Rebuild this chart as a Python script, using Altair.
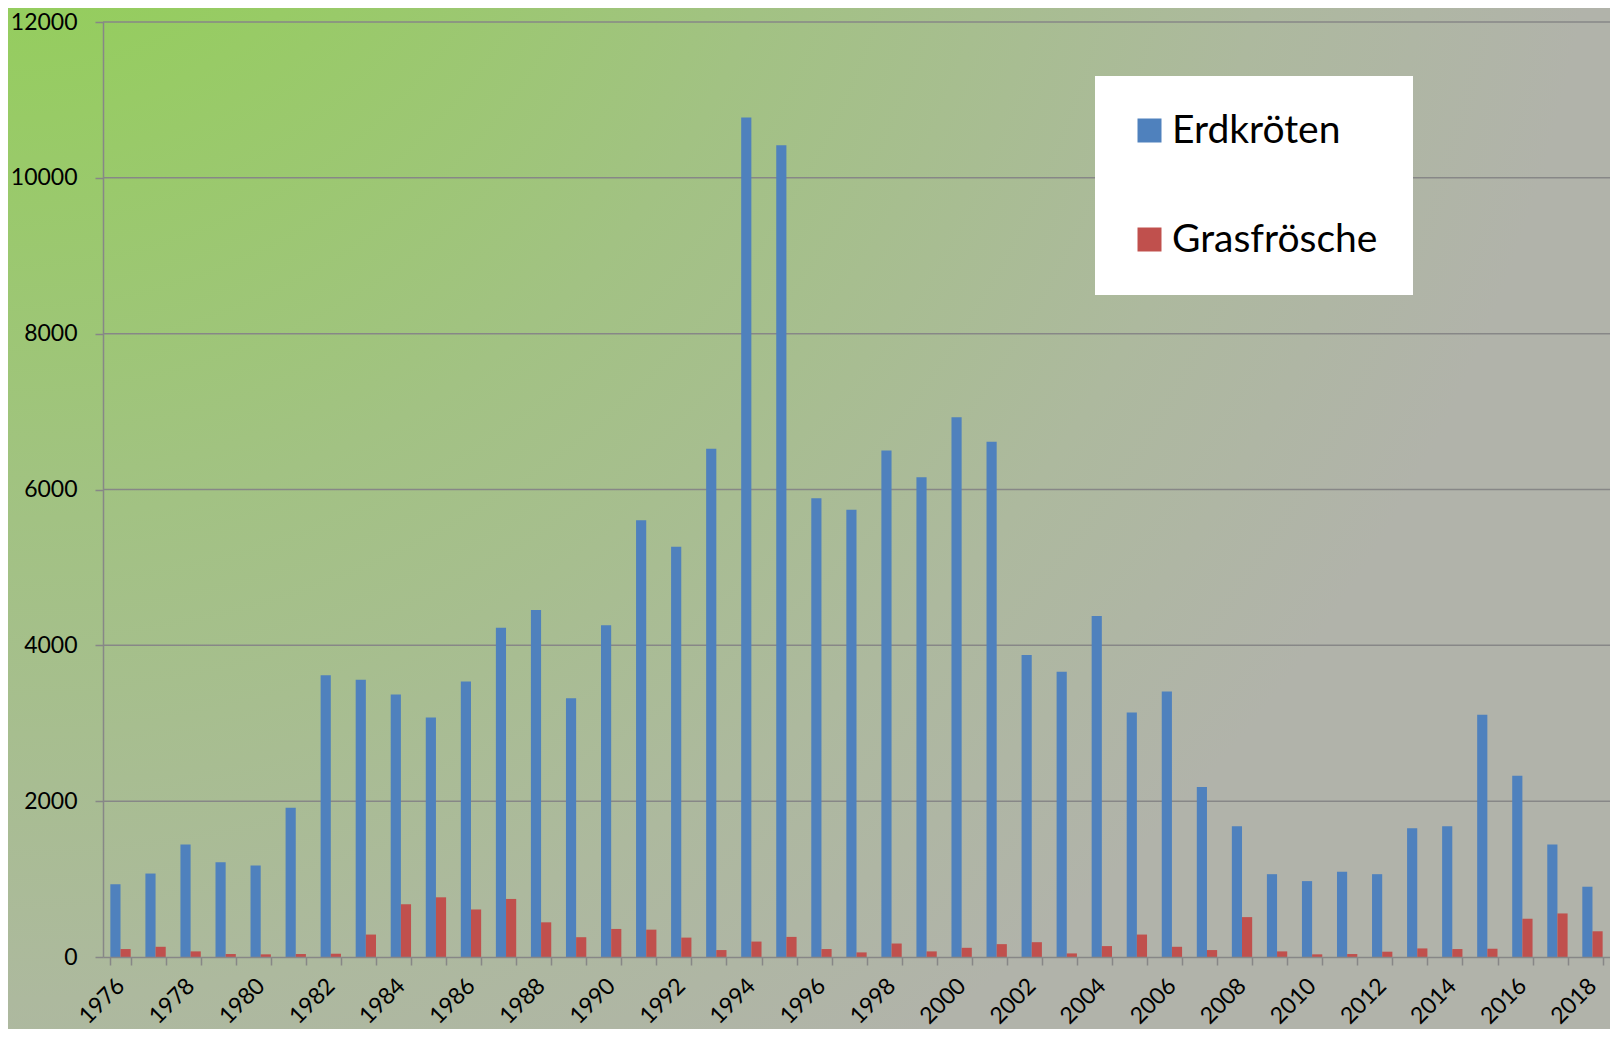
import altair as alt
import pandas as pd

years = list(range(1976, 2019))
series = ["Erdkröten", "Grasfrösche"]
erdkroeten = [935, 1071, 1444, 1215, 1173, 1914, 3617, 3558, 3368, 3075,
              3537, 4227, 4452, 3321, 4258, 5605, 5266, 6524, 10773, 10417,
              5889, 5740, 6499, 6156, 6927, 6613, 3877, 3660, 4376, 3139,
              3406, 2181, 1678, 1063, 974, 1093, 1063, 1652, 1678, 3109,
              2326, 1444, 902]
grasfroesche = [102, 131, 72, 38, 34, 38, 42, 288, 677, 766,
                610, 745, 445, 254, 360, 351, 249, 89, 198, 258,
                102, 59, 173, 72, 118, 165, 190, 46, 140, 288,
                131, 89, 512, 72, 34, 38, 68, 110, 102, 106,
                491, 559, 330]
y_ticks = [0, 2000, 4000, 6000, 8000, 10000, 12000]
colors = ["#4F81BD", "#C0504D"]

df = pd.DataFrame({
    "Jahr": years * 2,
    "Art": [series[0]] * len(years) + [series[1]] * len(years),
    "Anzahl": erdkroeten + grasfroesche,
})

W, H = 1507, 935
PAD = {"left": 95, "top": 14, "right": 0, "bottom": 72}
GRAY = "#878787"
FONT = "Lato"

gradient = alt.RadialGradient(
    gradient="radial", x1=0, y1=0, r1=0, x2=0, y2=0, r2=1,
    stops=[
        alt.GradientStop(offset=0.0, color="#8CD24A"),
        alt.GradientStop(offset=0.25, color="#98CB66"),
        alt.GradientStop(offset=0.5, color="#A2C283"),
        alt.GradientStop(offset=0.8, color="#ADB99E"),
        alt.GradientStop(offset=1.0, color="#B1B3AA"),
    ],
)

bg = alt.Chart(pd.DataFrame({"k": [0]})).mark_rect(color=gradient).encode(
    x=alt.value(-PAD["left"]), x2=alt.value(W + PAD["right"]),
    y=alt.value(-PAD["top"]), y2=alt.value(H + PAD["bottom"]),
)

yscale = alt.Scale(domain=[0, 12000], nice=False)

grid = alt.Chart(pd.DataFrame({"Anzahl": y_ticks[1:]})).mark_rule(
    color=GRAY, strokeWidth=1.5
).encode(y=alt.Y("Anzahl:Q", scale=yscale, title=None))

bars = alt.Chart(df).mark_bar().encode(
    x=alt.X(
        "Jahr:O",
        scale=alt.Scale(paddingInner=0.42, paddingOuter=0.21),
        axis=alt.Axis(
            title=None, labelAngle=-45, labelAlign="right", labelBaseline="middle",
            labelFont=FONT, labelFontSize=23, labelColor="black",
            labelExpr="datum.value % 2 == 0 ? datum.label : ''",
            labelOverlap=False, labelPadding=17, labelBound=False,
            tickBand="extent", tickColor=GRAY, tickSize=8, tickWidth=1.5,
            domainColor=GRAY, domainWidth=1.5, grid=False, zindex=2,
        ),
    ),
    xOffset=alt.XOffset("Art:N", sort=series,
                        scale=alt.Scale(paddingInner=0, paddingOuter=0)),
    y=alt.Y(
        "Anzahl:Q", scale=yscale, title=None,
        axis=alt.Axis(
            values=y_ticks, format="d", grid=False, labelFont=FONT,
            labelFontSize=23, labelColor="black", labelPadding=18,
            tickColor=GRAY, tickSize=8, tickWidth=1.5, domainColor=GRAY,
            domainWidth=1.5, zindex=2,
        ),
    ),
    color=alt.Color(
        "Art:N", sort=series,
        scale=alt.Scale(domain=series, range=colors),
        legend=alt.Legend(
            title=None, orient="none", legendX=992, legendY=54,
            fillColor="white", padding=35, symbolType="square",
            symbolSize=576, symbolStrokeWidth=0, symbolOpacity=1,
            labelFont=FONT, labelFontSize=39, labelColor="black",
            labelOffset=3, rowPadding=69, labelLimit=500, zindex=3,
        ),
    ),
)

chart = alt.layer(bg, grid, bars).properties(
    width=W, height=H, padding=PAD,
    autosize=alt.AutoSizeParams(type="none"),
).configure_view(stroke=None).configure(font=FONT)

chart.save("out.html", embed_options={"renderer": "svg", "actions": False})
